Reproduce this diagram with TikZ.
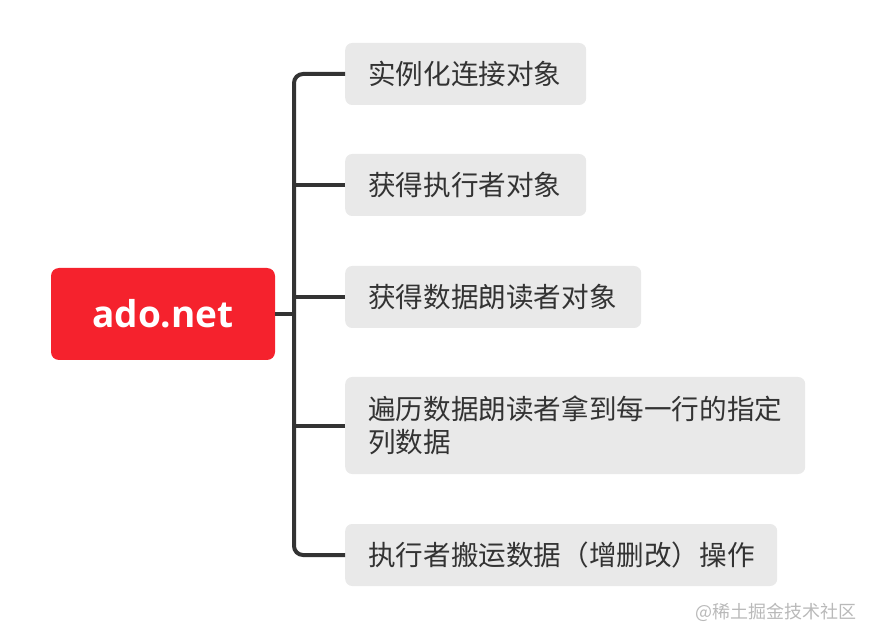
\documentclass[tikz,border=0pt]{standalone}
\usepackage{fontspec}
\setmainfont{Noto Sans CJK SC}
\newfontfamily\rootfont{Open Sans}[BoldFont={* Bold}]
\definecolor{rootred}{RGB}{245,34,45}
\definecolor{boxgray}{RGB}{233,233,233}
\definecolor{txtgray}{RGB}{51,51,51}
\definecolor{linegray}{RGB}{51,51,51}
\definecolor{wmgray}{RGB}{185,185,185}
\tikzset{
  rootbox/.style={fill=rootred, rounded corners=8pt, minimum width=224pt, minimum height=92pt,
    text=white, font=\rootfont\bfseries\fontsize{37}{40}\selectfont, inner sep=0pt},
  leafbox/.style={fill=boxgray, rounded corners=7pt, anchor=west, inner xsep=23pt, inner ysep=0pt,
    align=left, text=txtgray, font=\fontsize{27.6}{33}\selectfont},
  conn/.style={draw=linegray, line width=4pt, rounded corners=9pt},
  wmark/.style={text=wmgray, font=\fontsize{18}{20}\selectfont, anchor=east, inner sep=0pt}
}
\begin{document}
\begin{tikzpicture}[x=1pt,y=-1pt]
\useasboundingbox (0,0) rectangle (876,644);
\node[rootbox] (root) at (163,314) {ado.net};
\node[leafbox, text width=195pt, minimum height=62pt] (b1) at (345,74) {实例化连接对象};
\node[leafbox, text width=195pt, minimum height=62pt] (b2) at (345,185) {获得执行者对象};
\node[leafbox, text width=250pt, minimum height=62pt] (b3) at (345,297) {获得数据朗读者对象};
\node[leafbox, text width=414pt, minimum height=97pt] (b4) at (345,425.5) {遍历数据朗读者拿到每一行的指定\\列数据};
\node[leafbox, text width=386pt, minimum height=62pt] (b5) at (345,555) {执行者搬运数据（增删改）操作};
\coordinate (tx) at (294,314);
\draw[conn] (b1.west) -- (b1.west -| tx) -- (b5.west -| tx) -- (b5.west);
\draw[conn] (root.east) -- (tx);
\draw[conn] (b2.west) -- (b2.west -| tx);
\draw[conn] (b3.west) -- (b3.west -| tx);
\draw[conn] (b4.west) -- (b4.west -| tx);
\node[wmark] (wm) at (857,612) {@稀土掘金技术社区};
\end{tikzpicture}
\end{document}
